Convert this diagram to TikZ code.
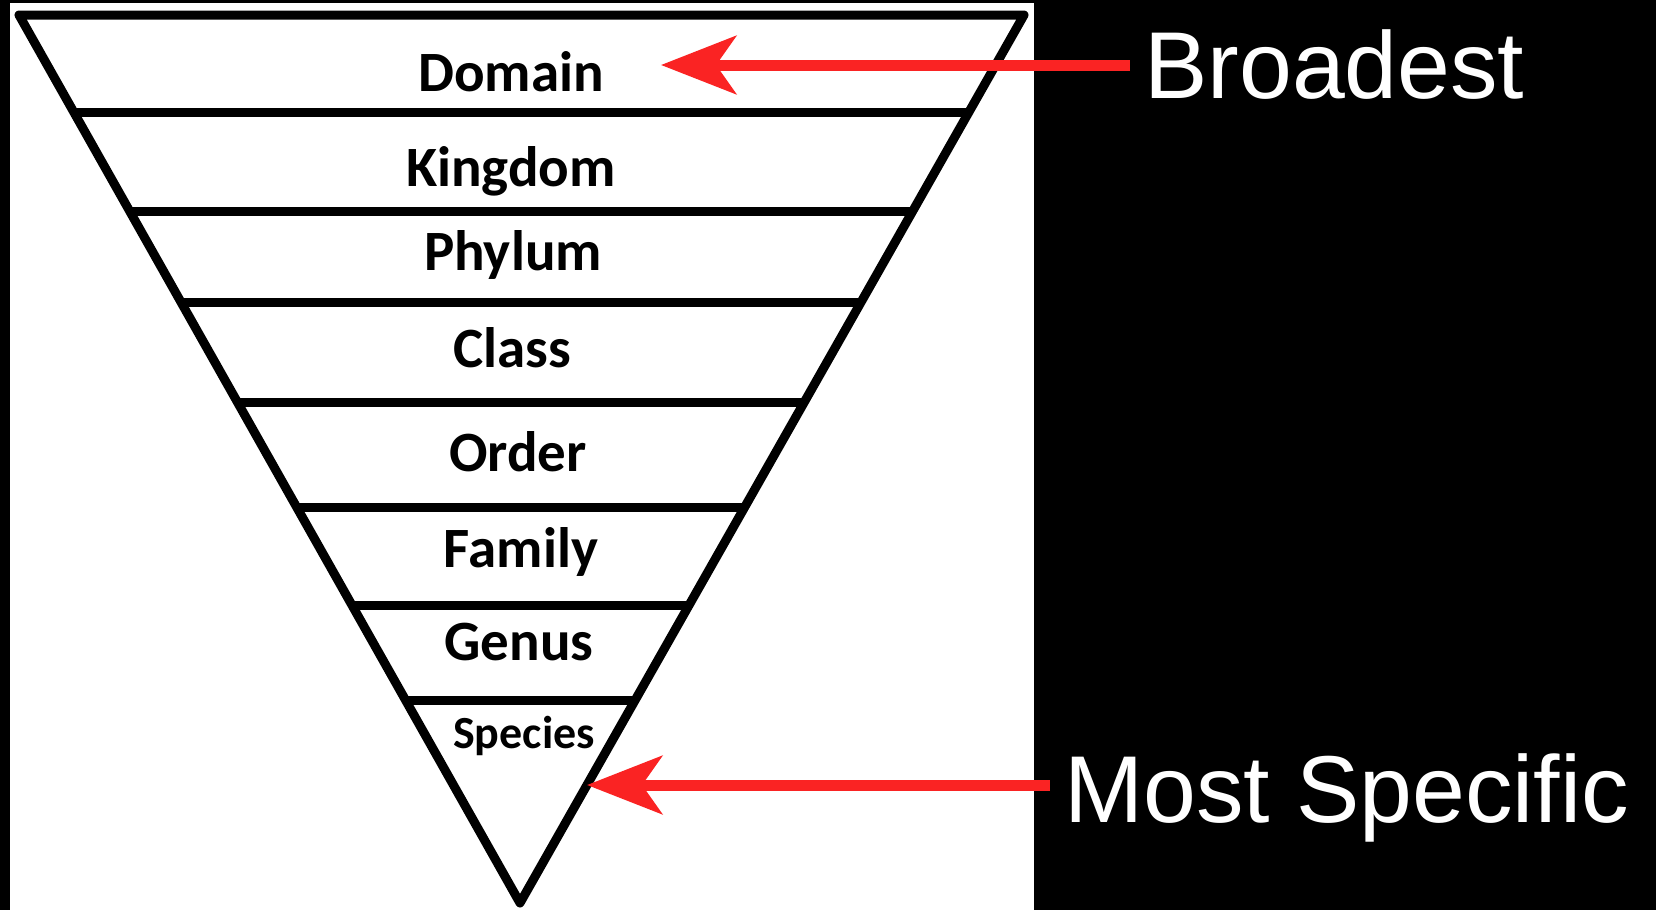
\documentclass[tikz,border=0pt]{standalone}
\usepackage{fontspec}
\setmainfont{Liberation Sans}
\newfontfamily\rankfont{Carlito}
\usetikzlibrary{arrows.meta, calc}

\definecolor{pointred}{RGB}{250,35,35}

\begin{document}
\begin{tikzpicture}[x=1pt, y=-1pt,
    frame/.style={draw=black, line width=9pt, line join=round},
    rank/.style={anchor=base, inner sep=0pt, font=\rankfont\bfseries\fontsize{57}{60}\selectfont},
    side/.style={anchor=base west, inner sep=0pt, text=white, font=\fontsize{95}{100}\selectfont},
    pointer/.style={draw=pointred, line width=11pt, -{Stealth[length=75pt, width=58pt, inset=20pt]}}]
    \useasboundingbox (0,0) rectangle (1656,910);

    % backdrop: black page with a white panel on the left
    \fill[black] (0,0) rectangle (1656,910);
    \fill[white] (10,3) rectangle (1034,910);

    % the inverted triangle and its bands
    \coordinate (tl) at (19,15);
    \coordinate (tr) at (1024,15);
    \coordinate (apex) at (520,903);
    \draw[frame] (tl) -- (tr) -- (apex) -- cycle;
    \foreach \y in {113,211,303,402,507,605,700} {
        \draw[frame] ($(tl)!{(\y-15)/888}!(apex)$) -- ($(tr)!{(\y-15)/888}!(apex)$);
    }

    % rank names
    \foreach \name/\word/\x/\y in {dom/Domain/511/91, king/Kingdom/511/186,
        phy/Phylum/513/270, cls/Class/512/367, ord/Order/518/471,
        fam/Family/521/567, gen/Genus/519/660} {
        \node[rank] (\name) at (\x,\y) {\word};
    }
    \node[rank, font=\rankfont\bfseries\fontsize{46}{48}\selectfont] (spc) at (524,748) {Species};

    % side labels with their arrows
    \node[side] (broad) at (1144,98) {Broadest};
    \node[side] (spec) at (1064,822) {Most Specific};
    \coordinate (domtip) at (661,65);
    \coordinate (sptip) at ($(tr)!{(785-15)/888}!(apex)$);
    \draw[pointer] ([xshift=-14pt]broad.west |- domtip) -- (domtip);
    \draw[pointer] ([xshift=-14pt]spec.west |- sptip) -- (sptip);
\end{tikzpicture}
\end{document}
